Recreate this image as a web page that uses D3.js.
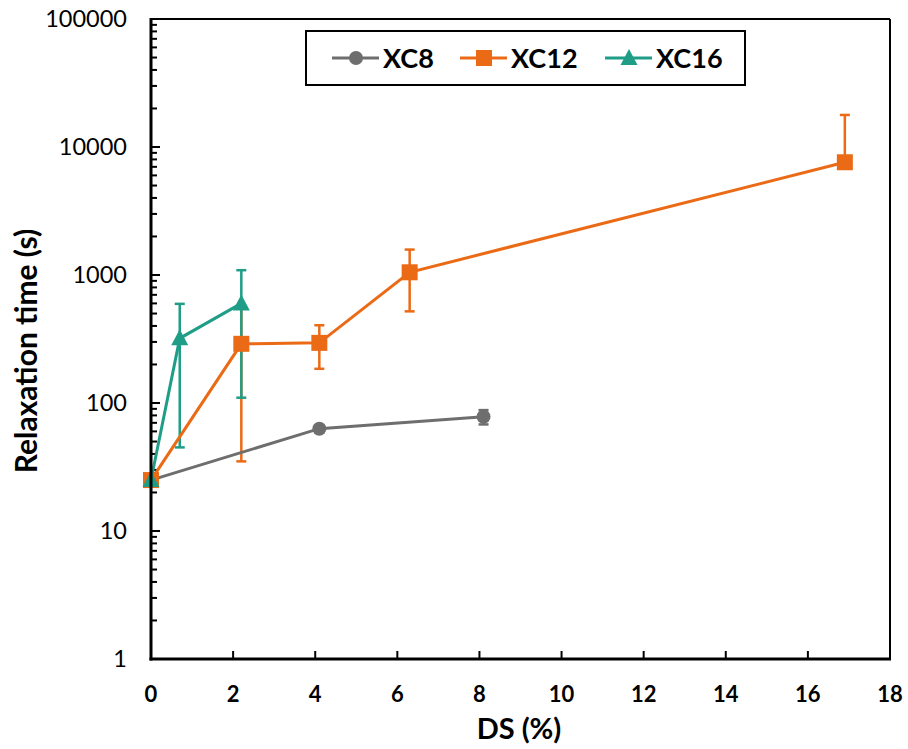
<!DOCTYPE html>
<html><head><meta charset="utf-8">
<script src="https://cdn.jsdelivr.net/npm/d3@7"></script>
<style>body{margin:0;background:#fff}svg{display:block}</style>
</head><body>
<script>
const seriesNames = ["XC8", "XC12", "XC16"];
const colors = ["#6e6e6e", "#eb6a16", "#1f9d87"];
const xc8X = [0, 4.1, 8.1];
const xc8Y = [25, 63, 78];
const xc8Err = [0, 4, 10];
const xc12X = [0, 2.2, 4.1, 6.3, 16.9];
const xc12Y = [25, 290, 295, 1050, 7600];
const xc12Err = [0, 255, 110, 530, 10200];
const xc16X = [0, 0.7, 2.2];
const xc16Y = [25, 320, 600];
const xc16Err = [0, 275, 490];
const xTicks = [0, 2, 4, 6, 8, 10, 12, 14, 16, 18];
const yTicks = [1, 10, 100, 1000, 10000, 100000];

const series = [
  {name: seriesNames[0], color: colors[0], shape: "circle", pts: xc8X.map((x,i)=>({x, y: xc8Y[i], e: xc8Err[i]}))},
  {name: seriesNames[1], color: colors[1], shape: "square", pts: xc12X.map((x,i)=>({x, y: xc12Y[i], e: xc12Err[i]}))},
  {name: seriesNames[2], color: colors[2], shape: "triangle", pts: xc16X.map((x,i)=>({x, y: xc16Y[i], e: xc16Err[i]}))}
];

const W = 908, H = 749;
const L = 151, R = 890, T = 19, B = 659;
const svg = d3.select("body").append("svg").attr("width", W).attr("height", H);
const x = d3.scaleLinear().domain([0, 18]).range([L, R]);
const y = d3.scaleLog().domain([1, 100000]).range([B, T]);

const font = "Lato, 'Open Sans', sans-serif";

// frame top/right
svg.append("line").attr("x1", L).attr("x2", R).attr("y1", T).attr("y2", T).attr("stroke", "#000").attr("stroke-width", 2);
svg.append("line").attr("x1", R).attr("x2", R).attr("y1", T).attr("y2", B).attr("stroke", "#000").attr("stroke-width", 2);

// y minor ticks
const minor = [];
for (let d = 1; d < 100000; d *= 10) for (let k = 2; k <= 9; k++) minor.push(d * k);
svg.append("g").selectAll("line").data(minor).join("line")
  .attr("x1", L).attr("x2", L + 6).attr("y1", d => y(d)).attr("y2", d => y(d))
  .attr("stroke", "#000").attr("stroke-width", 2);
svg.append("g").selectAll("line").data(yTicks).join("line")
  .attr("x1", L).attr("x2", L + 9).attr("y1", d => y(d)).attr("y2", d => y(d))
  .attr("stroke", "#000").attr("stroke-width", 2);
svg.append("g").selectAll("text").data(yTicks).join("text")
  .attr("x", L - 24).attr("y", d => y(d)).attr("dy", "0.36em").attr("text-anchor", "end")
  .attr("font-family", font).attr("font-size", 23.5).attr("fill", "#000").text(d => d);

// x ticks
svg.append("g").selectAll("line").data(xTicks).join("line")
  .attr("x1", d => x(d)).attr("x2", d => x(d)).attr("y1", B).attr("y2", B - 8)
  .attr("stroke", "#000").attr("stroke-width", 2);
svg.append("g").selectAll("text").data(xTicks).join("text")
  .attr("x", d => x(d)).attr("y", B + 43).attr("text-anchor", "middle")
  .attr("font-family", font).attr("font-weight", "bold").attr("font-size", 22).attr("fill", "#000").text(d => d);

// axis titles
svg.append("text").attr("x", 519).attr("y", 739).attr("text-anchor", "middle")
  .attr("font-family", font).attr("font-weight", "bold").attr("font-size", 29).text("DS (%)");
svg.append("text").attr("transform", `translate(37,351) rotate(-90)`).attr("text-anchor", "middle")
  .attr("font-family", font).attr("font-weight", "bold").attr("font-size", 30).text("Relaxation time (s)");

const plot = svg.append("g");

// error bars
series.forEach(s => {
  s.pts.forEach(p => {
    if (!p.e) return;
    const top = y(p.y + p.e);
    const lowVal = p.y - p.e;
    const bot = lowVal > 0 ? y(lowVal) : y(p.y);
    const cx = x(p.x);
    plot.append("line").attr("x1", cx).attr("x2", cx).attr("y1", top).attr("y2", bot)
      .attr("stroke", s.color).attr("stroke-width", 2.5);
    plot.append("line").attr("x1", cx - 5).attr("x2", cx + 5).attr("y1", top).attr("y2", top)
      .attr("stroke", s.color).attr("stroke-width", 2.5);
    if (lowVal > 0) plot.append("line").attr("x1", cx - 5).attr("x2", cx + 5).attr("y1", bot).attr("y2", bot)
      .attr("stroke", s.color).attr("stroke-width", 2.5);
  });
});

const line = d3.line().x(d => x(d.x)).y(d => y(d.y));
function marker(g, shape, cx, cy, color) {
  if (shape === "circle") g.append("circle").attr("cx", cx).attr("cy", cy).attr("r", 7).attr("fill", color);
  else if (shape === "square") g.append("rect").attr("x", cx - 8).attr("y", cy - 8).attr("width", 16).attr("height", 16).attr("fill", color);
  else g.append("path").attr("d", `M${cx},${cy - 9}L${cx + 8.5},${cy + 7}L${cx - 8.5},${cy + 7}Z`).attr("fill", color);
}
series.forEach(s => {
  plot.append("path").attr("d", line(s.pts)).attr("fill", "none").attr("stroke", s.color).attr("stroke-width", 3);
  s.pts.forEach(p => marker(plot, s.shape, x(p.x), y(p.y), s.color));
});

// axes left/bottom
svg.append("line").attr("x1", L).attr("x2", L).attr("y1", T - 1).attr("y2", B + 1.5).attr("stroke", "#000").attr("stroke-width", 3);
svg.append("line").attr("x1", L - 1.5).attr("x2", R + 1).attr("y1", B).attr("y2", B).attr("stroke", "#000").attr("stroke-width", 3);

// legend
const lg = svg.append("g");
lg.append("rect").attr("x", 306).attr("y", 31).attr("width", 439).attr("height", 54)
  .attr("fill", "#fff").attr("stroke", "#000").attr("stroke-width", 2);
const legX = [332, 460, 605];
series.forEach((s, i) => {
  const lx = legX[i], ly = 58;
  lg.append("line").attr("x1", lx).attr("x2", lx + 47).attr("y1", ly).attr("y2", ly).attr("stroke", s.color).attr("stroke-width", 3);
  marker(lg, s.shape, lx + 24, ly, s.color);
  lg.append("text").attr("x", lx + 51).attr("y", ly).attr("dy", "0.36em")
    .attr("font-family", font).attr("font-weight", "bold").attr("font-size", 27).text(s.name);
});
</script>
</body></html>
